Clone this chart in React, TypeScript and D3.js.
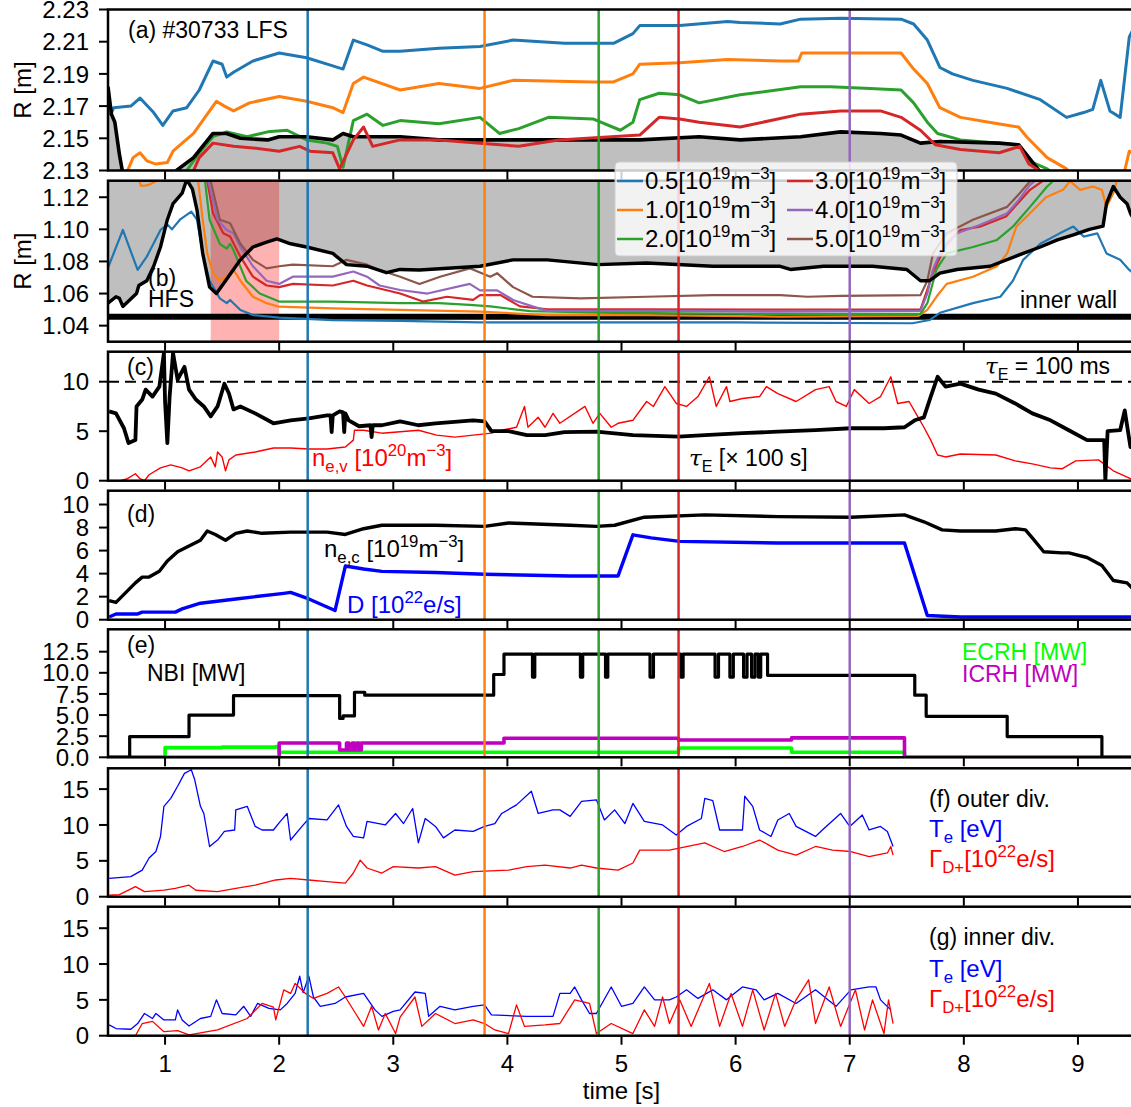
import React, { useEffect, useRef } from 'react';
import * as d3 from 'd3';

type Pt = [number, number];
type Part = [string, string];

// time axis
const timeDomain: [number, number] = [0.5, 9.5];
const timeTicks = [1, 2, 3, 4, 5, 6, 7, 8, 9];

// vertical marker times
const markerTimes = [2.25, 3.8, 4.8, 5.5, 7.0];
const markerColors = ['#1f77b4', '#ff7f0e', '#2ca02c', '#d62728', '#9467bd'];

// density contours (legend)
const contourLabels = ['0.5', '1.0', '2.0', '3.0', '4.0', '5.0'];
const contourColors = ['#1f77b4', '#ff7f0e', '#2ca02c', '#d62728', '#9467bd', '#8c564b'];

// (a) LFS radius of density contours [m]
const lfs05: Pt[] = [[0.52,2.164],[0.55,2.169],[0.7,2.17],[0.78,2.175],[0.9,2.166],[0.98,2.158],[1.07,2.167],[1.19,2.169],[1.3,2.18],[1.42,2.198],[1.5,2.196],[1.54,2.188],[1.6,2.191],[1.77,2.198],[2.0,2.203],[2.24,2.2],[2.47,2.195],[2.56,2.193],[2.65,2.211],[2.77,2.208],[2.91,2.204],[3.06,2.204],[3.4,2.206],[3.76,2.207],[4.05,2.211],[4.5,2.209],[4.75,2.209],[4.93,2.209],[5.1,2.215],[5.16,2.22],[5.51,2.22],[5.93,2.2225],[6.04,2.222],[6.39,2.221],[6.57,2.224],[6.92,2.2245],[7.45,2.224],[7.56,2.221],[7.68,2.211],[7.79,2.194],[7.9,2.19],[8.08,2.186],[8.38,2.181],[8.67,2.174],[8.9,2.163],[9.05,2.166],[9.13,2.168],[9.2,2.186],[9.28,2.167],[9.37,2.163],[9.45,2.213],[9.5,2.22]];
const lfs10: Pt[] = [[0.6,2.131],[0.66,2.128],[0.72,2.138],[0.78,2.141],[0.84,2.136],[0.92,2.134],[1.02,2.135],[1.07,2.142],[1.15,2.147],[1.25,2.153],[1.37,2.165],[1.45,2.173],[1.52,2.17],[1.6,2.167],[1.74,2.172],[2.0,2.176],[2.24,2.173],[2.47,2.169],[2.56,2.166],[2.65,2.184],[2.74,2.188],[3.06,2.18],[3.4,2.184],[3.76,2.181],[4.05,2.186],[4.75,2.185],[4.93,2.185],[5.1,2.19],[5.16,2.196],[5.51,2.197],[5.93,2.199],[6.39,2.198],[6.55,2.198],[6.58,2.203],[6.92,2.203],[7.45,2.203],[7.56,2.193],[7.68,2.184],[7.79,2.169],[7.97,2.163],[8.3,2.159],[8.48,2.157],[8.55,2.151],[8.73,2.138],[8.9,2.131],[8.95,2.127],[9.4,2.127],[9.45,2.142],[9.5,2.14]];
const lfs20: Pt[] = [[1.15,2.126],[1.19,2.13],[1.3,2.141],[1.42,2.151],[1.54,2.154],[1.72,2.151],[1.9,2.154],[2.07,2.155],[2.24,2.149],[2.42,2.147],[2.51,2.145],[2.56,2.132],[2.65,2.161],[2.77,2.165],[2.91,2.158],[3.06,2.161],[3.4,2.159],[3.76,2.163],[3.93,2.153],[4.1,2.156],[4.36,2.163],[4.75,2.162],[4.99,2.155],[5.1,2.16],[5.16,2.174],[5.33,2.178],[5.51,2.177],[5.68,2.172],[6.04,2.177],[6.57,2.182],[6.83,2.182],[7.18,2.181],[7.45,2.18],[7.56,2.172],[7.68,2.16],[7.77,2.153],[7.97,2.149],[8.31,2.147],[8.48,2.146],[8.57,2.136],[8.73,2.131],[8.8,2.127]];
const lfs30: Pt[] = [[1.2,2.126],[1.25,2.13],[1.3,2.138],[1.42,2.147],[1.6,2.145],[1.77,2.144],[2.0,2.142],[2.18,2.145],[2.27,2.142],[2.47,2.141],[2.53,2.131],[2.59,2.14],[2.65,2.149],[2.74,2.157],[2.82,2.145],[3.06,2.149],[3.4,2.149],[3.76,2.147],[4.1,2.145],[4.45,2.149],[5.16,2.152],[5.33,2.163],[5.51,2.162],[5.68,2.16],[6.04,2.157],[6.57,2.165],[6.92,2.167],[7.27,2.167],[7.45,2.163],[7.62,2.155],[7.75,2.146],[7.97,2.143],[8.31,2.141],[8.49,2.145],[8.57,2.134],[8.66,2.13],[8.7,2.127]];
const sepLFS: Pt[] = [[0.5,2.182],[0.53,2.165],[0.56,2.16],[0.6,2.14],[0.63,2.128],[1.08,2.128],[1.1,2.13],[1.25,2.138],[1.42,2.153],[1.54,2.153],[1.66,2.15],[1.9,2.149],[2.0,2.151],[2.24,2.151],[2.47,2.149],[2.56,2.153],[2.65,2.151],[3.06,2.151],[3.4,2.149],[3.76,2.149],[4.45,2.149],[5.16,2.149],[5.68,2.151],[6.04,2.149],[6.57,2.151],[6.92,2.154],[7.27,2.153],[7.45,2.152],[7.62,2.147],[7.79,2.148],[8.31,2.147],[8.48,2.146],[8.57,2.138],[8.66,2.13],[8.7,2.126]];

// (b) HFS radius of density contours [m]
const hfs05: Pt[] = [[0.5,1.076],[0.63,1.0996],[0.76,1.0747],[0.84,1.083],[0.96,1.0996],[1.02,1.103],[1.06,1.1],[1.13,1.106],[1.23,1.111],[1.28,1.106],[1.33,1.085],[1.39,1.068],[1.48,1.057],[1.54,1.054],[1.57,1.056],[1.66,1.0498],[1.77,1.0466],[2.0,1.045],[2.47,1.0435],[3.06,1.043],[3.76,1.042],[4.8,1.042],[6.0,1.042],[7.55,1.0415],[7.7,1.0435],[7.79,1.048],[8.08,1.054],[8.32,1.058],[8.43,1.068],[8.52,1.081],[8.67,1.091],[8.84,1.0975],[8.96,1.1017],[9.05,1.0955],[9.17,1.0975],[9.25,1.085],[9.37,1.081],[9.45,1.0747],[9.5,1.072]];
const hfs10: Pt[] = [[0.72,1.14],[0.75,1.135],[0.79,1.127],[0.85,1.1275],[0.92,1.13],[0.95,1.137],[1.27,1.137],[1.29,1.13],[1.33,1.106],[1.37,1.085],[1.42,1.0726],[1.48,1.068],[1.54,1.0705],[1.6,1.0747],[1.66,1.068],[1.77,1.058],[1.89,1.054],[2.0,1.0518],[2.47,1.0508],[3.06,1.0498],[3.76,1.0487],[4.35,1.0466],[5.22,1.0466],[6.39,1.0456],[7.6,1.046],[7.68,1.0498],[7.76,1.058],[7.85,1.066],[8.08,1.0705],[8.29,1.077],[8.38,1.085],[8.46,1.1017],[8.58,1.11],[8.72,1.12],[8.87,1.1246],[8.93,1.13],[9.02,1.1246],[9.13,1.1267],[9.21,1.1246],[9.25,1.114],[9.31,1.1225],[9.34,1.13],[9.36,1.137]];
const hfs20: Pt[] = [[1.33,1.14],[1.35,1.13],[1.39,1.106],[1.48,1.091],[1.54,1.088],[1.57,1.091],[1.6,1.087],[1.71,1.068],[1.83,1.06],[2.0,1.055],[2.47,1.055],[3.06,1.054],[3.4,1.054],[3.67,1.053],[3.85,1.052],[4.2,1.049],[4.93,1.048],[6.4,1.0473],[7.62,1.0473],[7.68,1.054],[7.76,1.075],[7.85,1.085],[8.08,1.089],[8.29,1.0934],[8.43,1.1017],[8.58,1.114],[8.73,1.1267],[8.78,1.13],[8.8,1.14]];
const hfs30: Pt[] = [[1.36,1.14],[1.37,1.13],[1.42,1.11],[1.51,1.0976],[1.57,1.0955],[1.66,1.083],[1.77,1.0705],[1.89,1.065],[2.0,1.064],[2.12,1.066],[2.47,1.065],[2.65,1.068],[2.77,1.065],[3.06,1.06],[3.26,1.055],[3.47,1.058],[3.7,1.056],[3.76,1.059],[3.94,1.059],[4.11,1.052],[4.35,1.0502],[5.22,1.0502],[6.4,1.05],[7.62,1.0502],[7.64,1.054],[7.74,1.075],[7.85,1.091],[7.97,1.0996],[8.14,1.1017],[8.37,1.108],[8.47,1.116],[8.58,1.1246],[8.69,1.13],[8.7,1.14]];
const hfs40: Pt[] = [[1.37,1.14],[1.38,1.13],[1.46,1.106],[1.54,1.0996],[1.6,1.0975],[1.66,1.089],[1.77,1.077],[1.89,1.068],[2.0,1.066],[2.12,1.0705],[2.47,1.0705],[2.65,1.0737],[2.77,1.0705],[2.88,1.065],[3.06,1.0622],[3.3,1.06],[3.67,1.066],[3.76,1.062],[3.91,1.062],[4.05,1.056],[4.22,1.052],[4.35,1.0492],[5.5,1.0492],[6.4,1.0487],[7.62,1.0492],[7.68,1.06],[7.73,1.075],[7.79,1.085],[7.94,1.0976],[8.14,1.1027],[8.38,1.11],[8.47,1.1173],[8.58,1.1277],[8.62,1.13],[8.64,1.14]];
const hfs50: Pt[] = [[1.39,1.14],[1.4,1.13],[1.48,1.106],[1.57,1.1038],[1.66,1.091],[1.77,1.081],[1.89,1.0757],[2.0,1.077],[2.12,1.078],[2.47,1.077],[2.59,1.081],[2.77,1.078],[2.88,1.0747],[3.06,1.0705],[3.23,1.066],[3.41,1.0705],[3.67,1.0757],[3.85,1.0705],[3.91,1.0727],[4.05,1.064],[4.22,1.058],[4.64,1.057],[5.22,1.058],[5.8,1.059],[6.39,1.059],[6.63,1.058],[6.92,1.0585],[7.62,1.059],[7.68,1.068],[7.73,1.085],[7.85,1.0976],[8.08,1.106],[8.38,1.114],[8.49,1.1225],[8.58,1.13],[8.6,1.14]];
const sepHFS: Pt[] = [[0.5,1.054],[0.57,1.058],[0.6,1.057],[0.63,1.052],[0.69,1.056],[0.75,1.06],[0.77,1.065],[0.84,1.068],[0.9,1.077],[0.96,1.089],[1.02,1.106],[1.07,1.116],[1.15,1.1225],[1.19,1.131],[1.24,1.125],[1.28,1.112],[1.33,1.085],[1.39,1.064],[1.45,1.06],[1.51,1.066],[1.6,1.075],[1.66,1.081],[1.77,1.089],[1.89,1.092],[1.98,1.094],[2.1,1.091],[2.24,1.089],[2.47,1.085],[2.59,1.078],[2.77,1.077],[2.94,1.073],[3.06,1.075],[3.23,1.0747],[3.76,1.077],[4.05,1.081],[4.35,1.081],[4.79,1.078],[5.22,1.079],[5.8,1.077],[6.39,1.077],[6.48,1.075],[6.77,1.077],[7.2,1.077],[7.5,1.075],[7.62,1.068],[7.7,1.068],[7.79,1.0727],[7.94,1.075],[8.23,1.077],[8.52,1.085],[8.67,1.089],[8.82,1.0934],[8.96,1.0965],[9.1,1.1],[9.22,1.102],[9.25,1.116],[9.31,1.1267],[9.37,1.12],[9.43,1.116],[9.46,1.11],[9.5,1.105]];
const innerWall = 1.0455;
const shadeSpan: [number, number] = [1.4, 2.0];

// (c) confinement time and volume density
const tauE: Pt[] = [[0.51,7.0],[0.57,6.8],[0.64,5.3],[0.68,3.8],[0.74,4.1],[0.75,7.5],[0.8,8.2],[0.83,9.2],[0.89,8.5],[0.95,9.5],[0.99,12.9],[1.0,8.0],[1.02,3.8],[1.04,8.5],[1.07,12.9],[1.11,10.2],[1.17,11.5],[1.21,9.2],[1.27,8.2],[1.34,7.5],[1.4,6.5],[1.46,7.5],[1.52,9.8],[1.56,8.8],[1.6,7.2],[1.66,7.5],[1.79,6.8],[1.95,5.8],[2.1,6.1],[2.26,6.3],[2.42,6.6],[2.45,6.6],[2.46,4.9],[2.47,6.6],[2.53,7.0],[2.56,6.9],[2.57,4.9],[2.58,6.8],[2.61,6.1],[2.7,5.5],[2.8,5.6],[2.81,4.4],[2.82,5.6],[2.9,5.6],[3.06,6.0],[3.22,5.6],[3.37,5.8],[3.7,6.1],[3.8,6.0],[3.86,5.0],[4.01,5.0],[4.17,4.6],[4.33,4.6],[4.5,4.9],[4.78,4.95],[5.1,4.6],[5.5,4.45],[5.73,4.6],[6.06,4.8],[6.37,4.95],[6.7,5.1],[7.01,5.3],[7.3,5.3],[7.48,5.4],[7.57,6.1],[7.65,6.4],[7.71,8.5],[7.77,10.5],[7.84,9.5],[7.97,9.8],[8.13,9.2],[8.28,8.8],[8.45,7.8],[8.6,6.8],[8.76,6.1],[8.92,5.1],[9.08,4.1],[9.23,4.1],[9.24,0],[9.26,5.0],[9.37,5.1],[9.41,7.1],[9.46,3.4],[9.5,4.5]];
const neV: Pt[] = [[0.61,0],[0.67,0.2],[0.74,0.7],[0.78,0.2],[0.82,0],[0.86,0.6],[0.96,1.3],[1.05,1.6],[1.15,1.3],[1.21,1.0],[1.31,1.4],[1.4,2.4],[1.44,1.4],[1.46,2.9],[1.5,2.4],[1.53,1.0],[1.56,2.1],[1.62,2.6],[1.79,2.9],[1.95,3.3],[2.1,3.3],[2.26,3.2],[2.42,3.2],[2.58,3.4],[2.65,4.1],[2.66,5.1],[2.74,5.1],[2.9,4.8],[3.06,4.95],[3.22,5.1],[3.38,4.6],[3.54,4.4],[3.7,4.6],[3.86,4.8],[3.95,5.1],[4.08,5.4],[4.15,7.5],[4.18,5.4],[4.27,6.4],[4.33,5.4],[4.4,6.8],[4.46,5.8],[4.68,7.5],[4.75,5.8],[4.81,6.8],[4.91,5.4],[4.97,5.8],[5.1,6.1],[5.22,8.0],[5.28,7.5],[5.38,9.5],[5.48,7.8],[5.57,7.5],[5.67,8.5],[5.77,10.5],[5.83,7.5],[5.92,9.5],[5.95,8.0],[6.06,8.3],[6.21,8.5],[6.27,9.5],[6.37,8.8],[6.53,8.0],[6.7,9.2],[6.82,9.5],[6.88,8.0],[6.97,7.5],[7.04,9.2],[7.17,7.8],[7.27,8.5],[7.36,10.5],[7.42,7.8],[7.52,8.0],[7.58,6.8],[7.65,5.4],[7.71,4.1],[7.77,2.6],[7.84,2.4],[7.97,2.7],[8.28,2.6],[8.45,2.0],[8.6,1.7],[8.76,1.3],[8.86,1.2],[8.98,2.0],[9.18,2.1],[9.31,1.0],[9.46,0.2],[9.5,0.1]];
const tauRef = 10;

// (d) core density and gas puff
const neC: Pt[] = [[0.51,1.66],[0.57,1.5],[0.64,2.2],[0.74,3.2],[0.8,3.7],[0.86,3.7],[0.95,4.2],[1.02,5.1],[1.11,5.9],[1.21,6.4],[1.31,6.9],[1.37,7.7],[1.44,7.4],[1.53,6.9],[1.62,7.5],[1.72,7.7],[1.85,7.5],[2.1,7.6],[2.42,7.6],[2.58,7.4],[2.74,7.9],[2.9,8.2],[3.37,8.2],[3.8,8.1],[4.01,8.4],[4.55,8.2],[4.78,8.1],[4.94,8.2],[5.2,8.9],[5.73,9.1],[6.37,8.95],[7.01,8.9],[7.48,9.1],[7.65,8.5],[7.81,7.8],[7.97,7.7],[8.28,7.7],[8.45,7.9],[8.54,7.8],[8.6,7.1],[8.7,5.9],[8.86,5.8],[8.92,5.8],[9.08,5.4],[9.21,4.7],[9.31,3.4],[9.43,3.2],[9.5,2.5]];
const gasD: Pt[] = [[0.51,0.23],[0.57,0.5],[0.76,0.5],[0.8,0.66],[1.09,0.66],[1.15,0.94],[1.31,1.43],[1.62,1.8],[2.04,2.29],[2.1,2.37],[2.26,1.8],[2.49,0.8],[2.58,4.66],[2.74,4.4],[2.9,4.2],[3.37,4.1],[3.8,3.95],[4.55,3.8],[4.97,3.8],[5.1,7.37],[5.26,7.1],[5.51,6.8],[6.37,6.66],[7.48,6.66],[7.68,0.37],[7.97,0.23],[9.5,0.23]];

// (e) heating powers [MW], piecewise constant
const nbi: Pt[] = [[0.5,0],[0.69,2.45],[1.21,5.0],[1.6,7.3],[2.53,4.6],[2.56,4.9],[2.66,7.7],[2.75,7.35],[3.88,9.8],[3.97,12.2],[4.22,9.5],[4.24,12.2],[4.64,9.5],[4.66,12.2],[4.86,9.5],[4.88,12.2],[5.25,9.5],[5.28,12.2],[5.52,9.5],[5.54,12.2],[5.82,9.5],[5.85,12.2],[5.95,9.5],[5.98,12.2],[6.07,9.5],[6.1,12.2],[6.14,9.5],[6.17,12.2],[6.2,9.5],[6.22,12.2],[6.28,9.7],[7.57,7.35],[7.67,4.85],[8.38,2.45],[9.21,0],[9.5,0]];
const ecrh: Pt[] = [[0.5,0],[1.0,1.14],[1.5,1.2],[1.97,1.26],[2.0,0.6],[5.5,1.1],[6.49,0.6],[7.48,0],[9.5,0]];
const icrh: Pt[] = [[0.5,0],[2.0,1.7],[2.53,0.87],[2.59,1.7],[2.61,0.87],[2.64,1.7],[2.66,0.87],[2.68,1.7],[2.7,0.87],[2.72,1.7],[3.97,2.25],[5.5,2.05],[6.49,2.3],[7.48,0],[9.5,0]];

// (f) outer divertor
const teOut: Pt[] = [[0.51,2.56],[0.7,2.8],[0.8,3.7],[0.86,5.4],[0.92,6.3],[0.96,8.4],[0.99,12.6],[1.05,13.7],[1.11,15.4],[1.17,17.2],[1.23,17.7],[1.26,16.3],[1.31,12.6],[1.34,11.6],[1.39,7.0],[1.46,7.9],[1.52,9.1],[1.61,9.3],[1.62,12.1],[1.72,12.6],[1.79,9.8],[1.85,9.3],[1.95,9.3],[2.01,10.5],[2.07,11.6],[2.1,7.9],[2.2,9.8],[2.26,10.9],[2.42,10.7],[2.52,12.8],[2.59,9.8],[2.65,8.4],[2.74,8.2],[2.77,10.5],[2.93,10.0],[3.02,11.6],[3.09,10.2],[3.17,12.3],[3.22,7.5],[3.28,10.9],[3.37,9.8],[3.44,8.2],[3.54,9.3],[3.7,9.1],[3.8,9.8],[3.89,10.2],[3.95,11.6],[4.08,12.8],[4.21,14.7],[4.27,11.6],[4.4,12.1],[4.46,12.1],[4.55,11.2],[4.65,13.3],[4.78,13.5],[4.85,10.7],[4.94,12.1],[5.03,10.2],[5.1,13.0],[5.2,10.5],[5.36,10.0],[5.48,8.6],[5.57,9.8],[5.7,10.9],[5.73,13.7],[5.8,13.4],[5.86,9.3],[6.06,9.3],[6.08,14.0],[6.15,12.6],[6.21,9.3],[6.31,8.4],[6.37,10.7],[6.47,11.6],[6.53,9.8],[6.7,8.4],[6.76,9.3],[6.92,11.6],[7.0,9.8],[7.11,11.4],[7.17,9.3],[7.27,9.8],[7.33,9.1],[7.38,7.0]];
const fluxOut: Pt[] = [[0.51,0.23],[0.6,0.3],[0.74,1.4],[0.82,0.7],[0.99,0.93],[1.09,1.16],[1.21,1.6],[1.27,0.9],[1.46,0.7],[1.62,1.16],[1.79,1.6],[1.97,2.33],[2.1,2.56],[2.26,2.33],[2.42,2.1],[2.58,1.9],[2.65,3.3],[2.71,5.1],[2.77,4.0],[2.9,3.3],[3.0,4.2],[3.22,4.0],[3.37,4.2],[3.54,3.0],[3.7,3.5],[4.01,3.7],[4.17,4.2],[4.33,4.4],[4.55,4.0],[4.65,4.4],[4.78,4.0],[4.97,3.7],[5.1,4.7],[5.16,6.5],[5.42,6.5],[5.73,7.5],[5.9,6.3],[6.06,7.0],[6.21,7.9],[6.37,6.5],[6.53,5.8],[6.7,7.0],[6.85,6.5],[7.01,6.3],[7.17,5.6],[7.33,6.1],[7.36,7.0],[7.38,5.8]];

// (g) inner divertor
const teIn: Pt[] = [[0.51,1.5],[0.57,1.0],[0.7,0.9],[0.76,1.7],[0.82,3.1],[0.89,2.4],[0.92,3.1],[0.99,2.2],[1.09,2.2],[1.11,3.6],[1.15,2.2],[1.21,1.35],[1.31,2.4],[1.4,2.7],[1.45,5.0],[1.5,3.1],[1.62,2.9],[1.69,4.1],[1.75,2.7],[1.81,4.5],[1.91,3.8],[2.01,3.6],[2.07,4.5],[2.14,5.9],[2.18,8.3],[2.21,6.0],[2.26,8.3],[2.3,5.4],[2.36,4.1],[2.49,4.5],[2.58,5.4],[2.74,5.9],[2.84,3.6],[2.9,2.7],[3.0,3.4],[3.06,3.6],[3.19,6.1],[3.28,5.9],[3.31,2.7],[3.41,4.1],[3.54,3.6],[3.7,4.1],[3.8,4.3],[3.86,2.9],[4.17,2.7],[4.4,2.7],[4.46,5.9],[4.55,5.9],[4.59,6.8],[4.65,5.0],[4.72,3.1],[4.78,3.1],[4.91,6.8],[5.0,4.1],[5.1,4.5],[5.2,6.8],[5.29,5.0],[5.42,5.0],[5.48,5.4],[5.57,6.4],[5.67,5.2],[5.8,6.4],[5.92,5.0],[6.06,6.8],[6.18,6.4],[6.25,5.0],[6.37,5.9],[6.53,4.5],[6.7,6.4],[6.88,4.1],[7.01,6.4],[7.17,6.8],[7.23,6.8],[7.27,5.0],[7.36,3.6]];
const fluxIn: Pt[] = [[0.74,0],[0.8,1.7],[0.89,2.0],[0.99,0.56],[1.11,0.7],[1.21,0.1],[1.46,0.8],[1.72,2.4],[1.85,4.5],[1.95,4.0],[1.97,2.2],[2.04,6.4],[2.1,5.9],[2.14,7.3],[2.23,5.9],[2.3,5.2],[2.42,5.9],[2.52,6.8],[2.58,5.4],[2.67,3.1],[2.74,1.3],[2.81,4.1],[2.87,0.8],[2.93,3.1],[3.02,0.3],[3.06,2.6],[3.19,5.4],[3.25,1.3],[3.37,3.1],[3.54,1.7],[3.7,2.2],[3.8,1.7],[3.89,0.8],[4.01,0.3],[4.08,4.3],[4.15,1.3],[4.33,1.5],[4.46,1.7],[4.59,5.0],[4.72,4.5],[4.78,0.3],[4.91,1.7],[5.1,0.3],[5.2,3.6],[5.29,1.3],[5.36,5.4],[5.42,1.7],[5.51,5.0],[5.61,1.3],[5.77,7.3],[5.86,1.3],[5.96,5.9],[6.06,1.3],[6.15,6.4],[6.25,0.8],[6.35,5.9],[6.43,1.3],[6.53,5.0],[6.64,7.8],[6.7,1.7],[6.82,6.8],[6.92,1.3],[7.05,6.4],[7.13,0.8],[7.2,5.0],[7.3,0.3],[7.34,5.0],[7.38,1.7]];

// y ticks per panel
const ticksA = [2.13, 2.15, 2.17, 2.19, 2.21, 2.23];
const ticksB = [1.04, 1.06, 1.08, 1.10, 1.12];
const ticksC = [0, 5, 10];
const ticksD = [0, 2, 4, 6, 8, 10];
const ticksE = [0, 2.5, 5, 7.5, 10, 12.5];
const ticksFG = [0, 5, 10, 15];

const FONT = '"Liberation Sans", Arial, Helvetica, sans-serif';
const X0 = 108;
const X1 = 1135;
const TICK_FS = 24;
const NOTE_FS = 23;

const App = () => {
  const ref = useRef<SVGSVGElement>(null);

  useEffect(() => {
    const svg = d3.select(ref.current);
    svg.selectAll('*').remove();
    svg.attr('font-family', FONT);
    const defs = svg.append('defs');
    const x = d3.scaleLinear().domain(timeDomain).range([X0, X1]);

    // rich text: normal / sup / sub / it pieces
    const rich = (g: any, px: number, py: number, parts: Part[], size: number, color: string) => {
      const t = g.append('text').attr('x', px).attr('y', py).attr('font-size', size).attr('fill', color);
      let shift = 0;
      parts.forEach(([s, k]) => {
        const target = k === 'sup' ? -0.42 * size : k === 'sub' ? 0.24 * size : 0;
        const ts = t.append('tspan').attr('dy', target - shift).text(s);
        if (k === 'sup' || k === 'sub') ts.attr('font-size', size * 0.7);
        if (k === 'it') ts.attr('font-style', 'italic').attr('font-family', '"DejaVu Serif", serif');
        shift = target;
      });
      return t;
    };

    const makePanel = (key: string, top: number, bottom: number, domain: [number, number]) => {
      const y = d3.scaleLinear().domain(domain).range([bottom, top]);
      defs.append('clipPath').attr('id', 'clip-' + key)
        .append('rect').attr('x', X0).attr('y', top).attr('width', X1 - X0).attr('height', bottom - top);
      const g = svg.append('g');
      const plot = g.append('g').attr('clip-path', `url(#clip-${key})`);
      return { y, g, plot, top, bottom };
    };

    const drawLine = (p: any, data: Pt[], color: string, width: number, curve: any = d3.curveLinear) => {
      const line = d3.line<Pt>().x(d => x(d[0])).y(d => p.y(d[1])).curve(curve);
      p.plot.append('path').datum(data).attr('d', line).attr('fill', 'none')
        .attr('stroke', color).attr('stroke-width', width).attr('stroke-linejoin', 'round');
    };

    const finish = (p: any, ticks: number[], fmt: string, showX = false) => {
      // vertical time markers
      markerTimes.forEach((t, i) => {
        p.plot.append('line').attr('x1', x(t)).attr('x2', x(t)).attr('y1', p.top).attr('y2', p.bottom)
          .attr('stroke', markerColors[i]).attr('stroke-width', 2.5);
      });
      p.g.append('rect').attr('x', X0).attr('y', p.top).attr('width', X1 - X0).attr('height', p.bottom - p.top)
        .attr('fill', 'none').attr('stroke', 'black').attr('stroke-width', 2.5);
      const f = d3.format(fmt);
      ticks.forEach(v => {
        p.g.append('line').attr('x1', X0 - 9).attr('x2', X0).attr('y1', p.y(v)).attr('y2', p.y(v))
          .attr('stroke', 'black').attr('stroke-width', 2);
        p.g.append('text').attr('x', 89).attr('y', p.y(v)).attr('dy', '0.36em')
          .attr('text-anchor', 'end').attr('font-size', TICK_FS).text(f(v));
      });
      timeTicks.forEach(t => {
        p.g.append('line').attr('x1', x(t)).attr('x2', x(t)).attr('y1', p.bottom).attr('y2', p.bottom + 9)
          .attr('stroke', 'black').attr('stroke-width', 2);
        if (showX) {
          p.g.append('text').attr('x', x(t)).attr('y', 1072).attr('text-anchor', 'middle')
            .attr('font-size', TICK_FS).text(String(t));
        }
      });
    };

    // ---------- (a)
    const pa = makePanel('a', 9.5, 170.5, [2.13, 2.23]);
    pa.plot.append('path').datum(sepLFS)
      .attr('d', d3.area<Pt>().x(d => x(d[0])).y0(pa.bottom).y1(d => pa.y(d[1])))
      .attr('fill', '#bfbfbf');
    drawLine(pa, lfs05, contourColors[0], 3);
    drawLine(pa, lfs10, contourColors[1], 3);
    drawLine(pa, lfs20, contourColors[2], 3);
    drawLine(pa, sepLFS, 'black', 3.6);
    drawLine(pa, lfs30, contourColors[3], 3);
    finish(pa, ticksA, '.2f');
    pa.g.append('text').attr('x', 128).attr('y', 38).attr('font-size', NOTE_FS).text('(a) #30733 LFS');
    pa.g.append('text').attr('transform', `translate(31,${(pa.top + pa.bottom) / 2}) rotate(-90)`)
      .attr('text-anchor', 'middle').attr('font-size', TICK_FS).text('R [m]');

    // ---------- (b)
    const pb = makePanel('b', 180.7, 341.7, [1.030, 1.1303]);
    pb.plot.append('path').datum(sepHFS)
      .attr('d', d3.area<Pt>().x(d => x(d[0])).y0(pb.top).y1(d => pb.y(d[1])))
      .attr('fill', '#bfbfbf');
    pb.plot.append('rect').attr('x', x(shadeSpan[0])).attr('y', pb.top)
      .attr('width', x(shadeSpan[1]) - x(shadeSpan[0])).attr('height', pb.bottom - pb.top)
      .attr('fill', 'red').attr('fill-opacity', 0.3);
    pb.plot.append('line').attr('x1', X0).attr('x2', X1).attr('y1', pb.y(innerWall)).attr('y2', pb.y(innerWall))
      .attr('stroke', 'black').attr('stroke-width', 6);
    [hfs05, hfs10, hfs20, hfs30, hfs40, hfs50].forEach((d, i) => drawLine(pb, d, contourColors[i], 2.2));
    drawLine(pb, sepHFS, 'black', 3.4);
    finish(pb, ticksB, '.2f');
    pb.g.append('text').attr('x', 148).attr('y', 286).attr('font-size', NOTE_FS).text('(b)');
    pb.g.append('text').attr('x', 148).attr('y', 307).attr('font-size', NOTE_FS).text('HFS');
    pb.g.append('text').attr('x', 1020).attr('y', 308).attr('font-size', NOTE_FS).text('inner wall');
    pb.g.append('text').attr('transform', `translate(31,${(pb.top + pb.bottom) / 2}) rotate(-90)`)
      .attr('text-anchor', 'middle').attr('font-size', TICK_FS).text('R [m]');

    // ---------- (c)
    const pc = makePanel('c', 351.7, 480.7, [0, 13.03]);
    pc.plot.append('line').attr('x1', X0).attr('x2', X1).attr('y1', pc.y(tauRef)).attr('y2', pc.y(tauRef))
      .attr('stroke', 'black').attr('stroke-width', 2).attr('stroke-dasharray', '11,6');
    drawLine(pc, neV, '#ff0000', 1.4);
    drawLine(pc, tauE, 'black', 3.8);
    finish(pc, ticksC, 'd');
    pc.g.append('text').attr('x', 127).attr('y', 375).attr('font-size', NOTE_FS).text('(c)');
    rich(pc.g, 985, 374, [['τ', 'it'], ['E', 'sub'], [' = 100 ms', 'n']], NOTE_FS, 'black');
    rich(pc.g, 312, 466, [['n', 'n'], ['e,v', 'sub'], [' [10', 'n'], ['20', 'sup'], ['m', 'n'], ['−3', 'sup'], [']', 'n']], 24, '#ff0000');
    rich(pc.g, 689, 466, [['τ', 'it'], ['E', 'sub'], [' [× 100 s]', 'n']], NOTE_FS, 'black');

    // ---------- (d)
    const pd = makePanel('d', 490.7, 619.7, [0, 11.2]);
    drawLine(pd, neC, 'black', 3.4);
    drawLine(pd, gasD, '#0000ff', 3.4);
    finish(pd, ticksD, 'd');
    pd.g.append('text').attr('x', 127).attr('y', 522).attr('font-size', NOTE_FS).text('(d)');
    rich(pd.g, 324, 557, [['n', 'n'], ['e,c', 'sub'], [' [10', 'n'], ['19', 'sup'], ['m', 'n'], ['−3', 'sup'], [']', 'n']], 24, 'black');
    rich(pd.g, 347, 613, [['D [10', 'n'], ['22', 'sup'], ['e/s]', 'n']], 24, '#0000ff');

    // ---------- (e)
    const pe = makePanel('e', 629.3, 757.3, [0, 15.15]);
    drawLine(pe, ecrh, '#00ff00', 3.6, d3.curveStepAfter);
    drawLine(pe, icrh, '#bf00bf', 3.6, d3.curveStepAfter);
    drawLine(pe, nbi, 'black', 3.2, d3.curveStepAfter);
    finish(pe, ticksE, '.1f');
    pe.g.append('text').attr('x', 127).attr('y', 653).attr('font-size', NOTE_FS).text('(e)');
    pe.g.append('text').attr('x', 147).attr('y', 681).attr('font-size', NOTE_FS).text('NBI [MW]');
    pe.g.append('text').attr('x', 962).attr('y', 660).attr('font-size', NOTE_FS).attr('fill', '#00ff00').text('ECRH [MW]');
    pe.g.append('text').attr('x', 962).attr('y', 682).attr('font-size', NOTE_FS).attr('fill', '#bf00bf').text('ICRH [MW]');

    // ---------- (f)
    const pf = makePanel('f', 768.3, 896.7, [0, 17.9]);
    drawLine(pf, teOut, '#0000ff', 1.3);
    drawLine(pf, fluxOut, '#ff0000', 1.3);
    finish(pf, ticksFG, 'd');
    pf.g.append('text').attr('x', 929).attr('y', 807).attr('font-size', NOTE_FS).text('(f) outer div.');
    rich(pf.g, 929, 837, [['T', 'n'], ['e', 'sub'], [' [eV]', 'n']], 24, '#0000ff');
    rich(pf.g, 929, 867, [['Γ', 'n'], ['D+', 'sub'], ['[10', 'n'], ['22', 'sup'], ['e/s]', 'n']], 24, '#ff0000');

    // ---------- (g)
    const pg = makePanel('g', 906.7, 1035.7, [0, 18.0]);
    drawLine(pg, teIn, '#0000ff', 1.3);
    drawLine(pg, fluxIn, '#ff0000', 1.3);
    finish(pg, ticksFG, 'd', true);
    pg.g.append('text').attr('x', 929).attr('y', 945).attr('font-size', NOTE_FS).text('(g) inner div.');
    rich(pg.g, 929, 977, [['T', 'n'], ['e', 'sub'], [' [eV]', 'n']], 24, '#0000ff');
    rich(pg.g, 929, 1007, [['Γ', 'n'], ['D+', 'sub'], ['[10', 'n'], ['22', 'sup'], ['e/s]', 'n']], 24, '#ff0000');
    svg.append('text').attr('x', x(5)).attr('y', 1099).attr('text-anchor', 'middle').attr('font-size', TICK_FS).text('time [s]');

    // ---------- legend (drawn on top)
    const lg = svg.append('g');
    lg.append('rect').attr('x', 615).attr('y', 162).attr('width', 342).attr('height', 94).attr('rx', 4)
      .attr('fill', 'white').attr('fill-opacity', 0.8).attr('stroke', '#cccccc').attr('stroke-width', 1);
    contourLabels.forEach((lab, i) => {
      const col = Math.floor(i / 3);
      const row = i % 3;
      const lx = col === 0 ? 617 : 787;
      const ly = 181 + row * 29;
      lg.append('line').attr('x1', lx).attr('x2', lx + 26).attr('y1', ly).attr('y2', ly)
        .attr('stroke', contourColors[i]).attr('stroke-width', 2.5);
      rich(lg, lx + 28, ly + 8, [[lab + '[10', 'n'], ['19', 'sup'], ['m', 'n'], ['−3', 'sup'], [']', 'n']], 24, 'black');
    });
  }, []);

  return (
    <svg ref={ref} width={1131} height={1107} style={{ position: 'absolute', left: 0, top: 0, background: 'white' }} />
  );
};

export default App;
